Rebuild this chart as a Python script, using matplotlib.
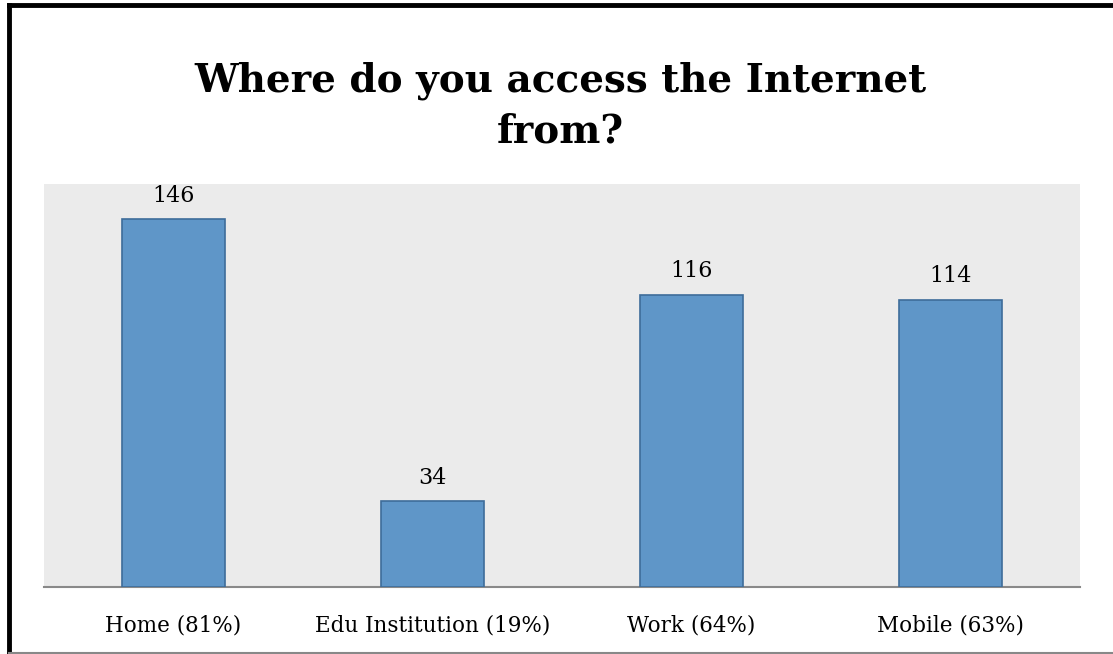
import matplotlib
matplotlib.use("Agg")
from matplotlib import pyplot as plt
from matplotlib.lines import Line2D

# donnees de l'enquete
lieux = ["Home (81%)", "Edu Institution (19%)", "Work (64%)", "Mobile (63%)"]
reponses = [146, 34, 116, 114]

plt.rcParams['font.family'] = ['DejaVu Serif']

fig = plt.figure(figsize=(11.13, 6.54), dpi=100)
ax = fig.add_axes([44/1113, 1-587/654, 1036/1113, 403/654])

x = range(len(lieux))
barres = ax.bar(x, reponses, width=0.4, color="#5F96C8", edgecolor="#3E6C9A", linewidth=1.2, zorder=3)
for b, v in zip(barres, reponses):
    ax.text(b.get_x() + b.get_width()/2, v + 5, str(v), ha="center", va="bottom", fontsize=16)

ax.set_xlim(-0.5, 3.5)
ax.set_ylim(0, 160)
ax.set_facecolor("#EBEBEB")
ax.set_yticks([])
ax.set_xticks(list(x))
ax.set_xticklabels(lieux, fontsize=15.5)
ax.tick_params(axis="x", length=0, pad=20)
for s in ["top", "right", "left"]:
    ax.spines[s].set_visible(False)
ax.spines["bottom"].set_color("#898989")
ax.spines["bottom"].set_linewidth(1.5)

fig.text(560/1113, 1-106/654, "Where do you access the Internet\nfrom?", ha="center", va="center",
         fontsize=28, fontweight="bold", linespacing=1.4)

# cadre
fig.add_artist(Line2D([9/1113, 9/1113], [0, 1-5/654], color="black", lw=3.5))
fig.add_artist(Line2D([9/1113, 1], [1-5/654, 1-5/654], color="black", lw=3.5))
fig.add_artist(Line2D([9/1113, 1], [1/654, 1/654], color="#888888", lw=1.5))

fig.savefig("out.png", dpi=100)
